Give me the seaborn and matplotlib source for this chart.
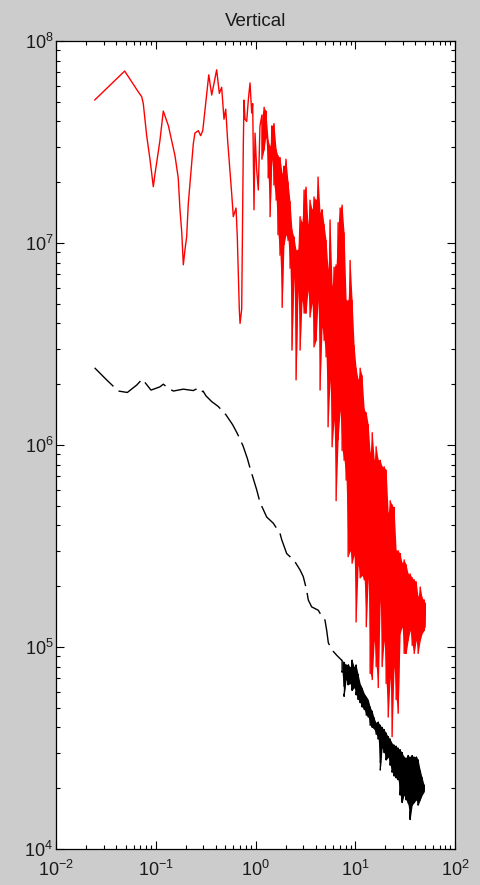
import numpy as np
import pandas as pd
import matplotlib
matplotlib.use("Agg")
import matplotlib.pyplot as plt
import seaborn as sns
from matplotlib.ticker import LogLocator, LogFormatterSciNotation, NullFormatter

# ---------------- data ----------------
title_text = "Vertical"

# red spectrum, individually visible vertices (low frequencies)
red_f_sparse = [0.0244, 0.0488, 0.0668, 0.0723, 0.0750, 0.0811, 0.0875, 0.0945, 0.0983, 0.110,
                0.119, 0.134, 0.156, 0.168, 0.175, 0.182, 0.189, 0.196, 0.204, 0.212,
                0.238, 0.247, 0.267, 0.282, 0.296, 0.319, 0.340, 0.364, 0.408, 0.434,
                0.458, 0.483, 0.503, 0.526, 0.577, 0.599, 0.638, 0.657, 0.688, 0.700,
                0.727, 0.738, 0.755, 0.767, 0.785, 0.816, 0.847, 0.881, 0.916, 0.937,
                0.966, 0.989, 1.028, 1.067, 1.109]
red_v_sparse = [5.1e7, 7.1e7, 5.6e7, 5.3e7, 4.9e7, 3.4e7, 2.6e7, 1.9e7, 2.2e7, 3.2e7,
                4.5e7, 3.8e7, 2.7e7, 2.1e7, 1.46e7, 1.14e7, 7.8e6, 9.2e6, 1.07e7, 1.57e7,
                3.1e7, 3.5e7, 3.6e7, 3.4e7, 3.6e7, 5.1e7, 6.8e7, 5.4e7, 7.2e7, 5.5e7,
                5.9e7, 4.1e7, 4.6e7, 3.2e7, 1.76e7, 1.35e7, 1.49e7, 1.07e7, 4.7e6, 4.0e6,
                4.7e6, 1.03e7, 3.1e7, 5.1e7, 4.1e7, 4.0e7, 5.1e7, 6.2e7, 4.4e7, 4.9e7,
                1.46e7, 3.5e7, 2.3e7, 1.83e7, 3.8e7]

# red spectrum, dense part: max / min read in narrow frequency bins
red_f_dense = [1.16, 1.22, 1.27, 1.34, 1.40, 1.46, 1.53, 1.61, 1.68, 1.76, 1.85, 1.93,
               2.02, 2.12, 2.22, 2.32, 2.43, 2.55, 2.67, 2.80, 2.93,
               3.07, 3.21, 3.36, 3.52, 3.69, 3.86, 4.05, 4.24, 4.44, 4.65, 4.87,
               5.10, 5.34, 5.59, 5.86, 6.13, 6.43, 6.73, 7.05, 7.38, 7.73,
               8.10, 8.48, 8.88, 9.30, 9.74,
               10.2, 10.7, 11.2, 11.7, 12.3, 12.9, 13.5, 14.1, 14.8, 15.5, 16.2, 17.0, 17.8, 18.6, 19.5,
               20.4, 21.4, 22.4, 23.4, 24.5, 25.7, 26.9, 28.2, 29.5,
               30.9, 32.4, 33.9, 35.5, 37.2, 39.0, 40.8, 42.7, 44.8, 46.9, 49.1, 50.0]
red_hi_dense = [4.3e7, 4.7e7, 4.5e7, 3.2e7, 3.0e7, 3.8e7, 3.9e7, 2.9e7, 2.7e7, 2.65e7, 2.2e7, 2.4e7,
                2.6e7, 2.0e7, 1.6e7, 1.16e7, 1.07e7, 9.2e6, 9.2e6, 1.35e7, 1.26e7,
                1.83e7, 1.89e7, 1.23e7, 1.63e7, 1.46e7, 1.69e7, 1.63e7, 2.12e7, 1.41e7, 1.46e7, 1.23e7,
                1.03e7, 7.35e6, 1.30e7, 6.1e6, 7.6e6, 7.8e6, 1.26e7, 1.49e7, 1.54e7, 1.12e7,
                5.2e6, 5.2e6, 8.2e6, 5.2e6, 3.1e6,
                2.4e6, 2.1e6, 2.4e6, 2.2e6, 1.5e6, 1.44e6, 1.26e6, 9.1e5, 1.15e6, 8.4e5, 9.8e5, 8.4e5, 8.4e5, 7.8e5, 7.8e5,
                7.5e5, 4.6e5, 5.3e5, 5.05e5, 4.9e5, 3.0e5, 3.0e5, 2.9e5, 2.6e5,
                2.7e5, 2.55e5, 2.3e5, 2.3e5, 2.2e5, 2.15e5, 2.1e5, 1.77e5, 1.98e5, 1.75e5, 1.71e5, 1.65e5]
red_lo_dense = [2.6e7, 2.9e7, 3.4e7, 2.1e7, 1.35e7, 2.6e7, 1.94e7, 1.63e7, 1.1e7, 8.7e6, 4.8e6, 9.8e6,
                1.1e7, 1.03e7, 7.5e6, 2.95e6, 6.8e6, 2.1e6, 5.85e6, 2.95e6, 5.2e6,
                4.5e6, 4.5e6, 5.85e6, 4.3e6, 5.05e6, 3.06e6, 3.3e6, 5.2e6, 1.87e6, 3.84e6, 3.3e6,
                2.73e6, 1.23e6, 2.1e6, 9.8e5, 1.33e6, 5.3e5, 1.06e6, 1.49e6, 9.4e5, 8.4e5,
                6.7e5, 2.8e5, 3.0e5, 2.6e5, 2.85e5,
                1.33e5, 2.55e5, 2.2e5, 2.26e5, 2.15e5, 1.26e5, 2.2e5, 7.4e4, 6.9e4, 1.08e5, 8.0e4, 6.3e4, 1.71e5, 8.0e4, 1.08e5,
                6.6e4, 4.5e4, 7.1e4, 3.6e4, 8.0e4, 5.5e4, 4.7e4, 1.17e5, 1.26e5,
                9.3e4, 9.3e4, 1.08e5, 1.21e5, 1.02e5, 9.3e4, 1.08e5, 9.3e4, 1.08e5, 1.17e5, 1.21e5, 1.26e5]

# black spectrum, individually visible vertices
blk_f_sparse = [0.0244, 0.0322, 0.0421, 0.0519, 0.0644, 0.0733, 0.0896, 0.110, 0.119, 0.134,
                0.150, 0.189, 0.238, 0.253, 0.278, 0.298, 0.319, 0.364, 0.424, 0.506,
                0.590, 0.657, 0.750, 0.827, 0.881, 1.028, 1.109, 1.295, 1.397, 1.508,
                1.761, 1.831, 2.055, 2.218, 2.489, 2.793, 3.013, 3.258, 3.381, 3.656,
                4.26, 4.43, 4.78, 4.97, 5.17, 5.37, 5.81, 6.52, 7.31]
blk_v_sparse = [2.41e6, 2.10e6, 1.85e6, 1.82e6, 1.98e6, 2.12e6, 1.87e6, 1.94e6, 2.00e6, 1.91e6,
                1.85e6, 1.89e6, 1.86e6, 1.89e6, 1.81e6, 1.85e6, 1.75e6, 1.64e6, 1.55e6, 1.41e6,
                1.26e6, 1.14e6, 9.9e5, 8.6e5, 7.7e5, 6.0e5, 5.2e5, 4.4e5, 4.25e5, 4.1e5,
                3.65e5, 3.4e5, 2.9e5, 2.8e5, 2.64e5, 2.41e5, 2.23e5, 1.91e5, 1.71e5, 1.58e5,
                1.52e5, 1.47e5, 1.39e5, 1.36e5, 1.21e5, 1.05e5, 9.7e4, 9.1e4, 8.6e4]

# black spectrum, dense part
blk_f_dense = [7.38, 7.73, 8.10, 8.48, 8.88, 9.30, 9.74,
               10.2, 10.7, 11.2, 11.7, 12.3, 12.9, 13.5, 14.1, 14.8, 15.5, 16.2, 17.0, 17.8, 18.6, 19.5,
               20.4, 21.4, 22.4, 23.4, 24.5, 25.7, 26.9, 28.2, 29.5,
               30.9, 32.4, 33.9, 35.5, 37.2, 39.0, 40.8, 42.7, 44.8, 46.9, 49.1]
blk_hi_dense = [8.6e4, 8.4e4, 8.15e4, 8.3e4, 7.9e4, 8.6e4, 8.0e4,
                8.15e4, 7.3e4, 6.6e4, 6.3e4, 5.9e4, 5.7e4, 5.5e4, 5.05e4, 4.8e4, 4.45e4, 4.2e4, 4.25e4, 4.1e4, 4.0e4, 3.9e4,
                3.75e4, 3.6e4, 3.5e4, 3.35e4, 3.27e4, 3.23e4, 3.16e4, 3.1e4, 3.0e4,
                2.85e4, 2.85e4, 2.9e4, 2.85e4, 2.9e4, 2.85e4, 2.9e4, 2.76e4, 2.46e4, 2.25e4, 2.07e4]
blk_lo_dense = [7.5e4, 5.7e4, 6.9e4, 6.5e4, 6.6e4, 6.1e4, 6.3e4,
                5.8e4, 5.5e4, 5.3e4, 5.05e4, 4.9e4, 4.6e4, 4.5e4, 4.1e4, 4.0e4, 3.9e4, 3.7e4, 3.5e4, 2.46e4, 3.16e4, 3.0e4,
                2.76e4, 2.85e4, 2.6e4, 2.4e4, 2.3e4, 2.25e4, 2.2e4, 1.85e4, 1.7e4,
                1.85e4, 1.75e4, 1.65e4, 1.4e4, 1.65e4, 1.7e4, 1.75e4, 1.65e4, 1.75e4, 1.85e4, 1.92e4]

x_limits = (1e-2, 1e2)
y_limits = (1e4, 1e8)


def build_series(f_sparse, v_sparse, f_dense, hi_dense, lo_dense):
    ff = list(f_sparse)
    vv = list(v_sparse)
    for f, hi, lo in zip(f_dense, hi_dense, lo_dense):
        ff += [f, f]
        vv += [hi, lo]
    return pd.DataFrame({"f": ff, "v": vv})


for a, b in [(red_f_sparse, red_v_sparse), (red_f_dense, red_hi_dense), (red_f_dense, red_lo_dense),
             (blk_f_sparse, blk_v_sparse), (blk_f_dense, blk_hi_dense), (blk_f_dense, blk_lo_dense)]:
    assert len(a) == len(b), (len(a), len(b))

red_df = build_series(red_f_sparse, red_v_sparse, red_f_dense, red_hi_dense, red_lo_dense)
blk_df = build_series(blk_f_sparse, blk_v_sparse, blk_f_dense, blk_hi_dense, blk_lo_dense)

# ---------------- style ----------------
sns.set_style("ticks")
plt.rcParams["font.family"] = ["Liberation Sans", "DejaVu Sans"]
plt.rcParams["mathtext.fontset"] = "custom"
plt.rcParams["mathtext.rm"] = "Liberation Sans"
plt.rcParams["mathtext.it"] = "Liberation Sans:italic"
plt.rcParams["mathtext.bf"] = "Liberation Sans:bold"
plt.rcParams["lines.scale_dashes"] = False
plt.rcParams["axes.unicode_minus"] = False

W, H = 480, 885
fig = plt.figure(figsize=(W / 100, H / 100), dpi=100, facecolor="#cccccc")
ax = fig.add_axes([56 / W, 36 / H, 399 / W, 808 / H])
ax.set_facecolor("white")

RED = "#ff0000"
# dense band bodies (spread between per-bin max and min)
ax.fill_between(red_f_dense, red_lo_dense, red_hi_dense, color=RED, lw=0, zorder=2)
ax.fill_between(blk_f_dense, blk_lo_dense, blk_hi_dense, color="black", lw=0, zorder=2)

sns.lineplot(data=red_df, x="f", y="v", sort=False, estimator=None,
             color=RED, lw=1.0, ax=ax, zorder=3)
sns.lineplot(data=blk_df, x="f", y="v", sort=False, estimator=None,
             color="black", lw=1.0, ax=ax, zorder=3)
ax.lines[-1].set_dashes([19, 5])

ax.set_xscale("log")
ax.set_yscale("log")
ax.set_xlim(*x_limits)
ax.set_ylim(*y_limits)
ax.set_xlabel("")
ax.set_ylabel("")

for axis in (ax.xaxis, ax.yaxis):
    axis.set_major_locator(LogLocator(base=10, numticks=10))
    axis.set_minor_locator(LogLocator(base=10, subs=np.arange(2, 10), numticks=20))
    axis.set_major_formatter(LogFormatterSciNotation())
    axis.set_minor_formatter(NullFormatter())

ax.tick_params(which="both", direction="in", top=True, right=True, color="black", width=0.8)
ax.tick_params(which="major", length=5.8, labelsize=13, labelcolor="#1a1a1a")
ax.tick_params(which="minor", length=3.2)
ax.tick_params(axis="x", which="major", pad=7.5)
ax.tick_params(axis="y", which="major", pad=2)

for s in ax.spines.values():
    s.set_color("black")
    s.set_linewidth(0.9)
    s.set_visible(True)

ax.set_title(title_text, fontsize=13.5, color="#1a1a1a", pad=11)

fig.savefig("out.png", dpi=100, facecolor=fig.get_facecolor())
